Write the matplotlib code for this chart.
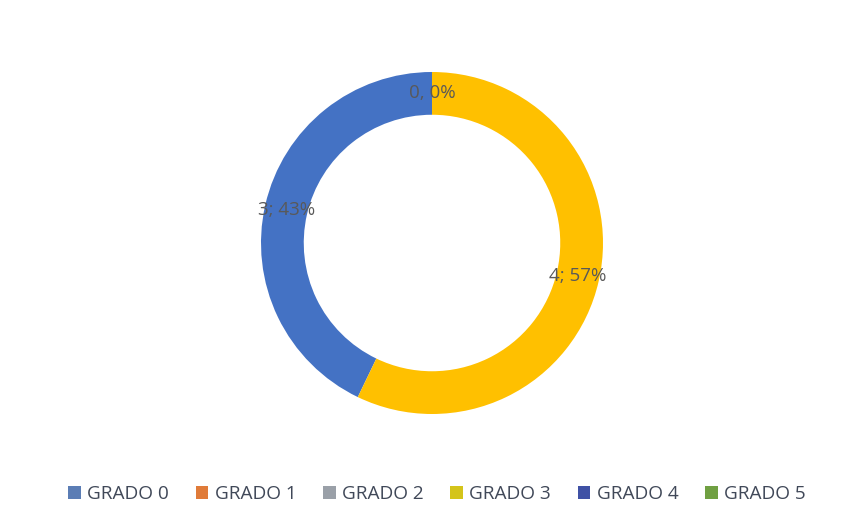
import numpy as np
import matplotlib
matplotlib.use("Agg")
from matplotlib import pyplot as plt
from matplotlib.patches import Patch

# data
categories = ["GRADO 0", "GRADO 1", "GRADO 2", "GRADO 3", "GRADO 4", "GRADO 5"]
values = [3, 0, 0, 4, 0, 0]
colors = ["#4472C4", "#ED7D31", "#A5A5A5", "#FFC000", "#3F51A5", "#70AD47"]
legend_colors = ["#5B7DB5", "#E07B39", "#9AA0A8", "#D4C41A", "#3F51A5", "#70A042"]
# which slices get a label (index), as on the original
labelled = [0, 3, 5]

plt.rcParams['font.family'] = ['Open Sans', 'DejaVu Sans']

fig = plt.figure(figsize=(8.44, 5.24), dpi=100)
# axes placed so the ring sits where it does in the picture
ax = fig.add_axes([261 / 844, 110 / 524, 342 / 844, 342 / 524])

ring = 0.25
wedges, _ = ax.pie(values, colors=colors, startangle=90, counterclock=True,
                   radius=1, wedgeprops=dict(width=ring, edgecolor='none'))
ax.set_xlim(-1, 1)
ax.set_ylim(-1, 1)
ax.set_aspect('equal')
ax.axis('off')

total = sum(values)
for i in labelled:
    w = wedges[i]
    ang = np.deg2rad((w.theta1 + w.theta2) / 2)
    r = 1 - ring / 2
    sep = ", " if values[i] == 0 else "; "
    txt = "%d%s%d%%" % (values[i], sep, round(100 * values[i] / total))
    ax.text(r * np.cos(ang), r * np.sin(ang), txt, ha='center', va='center',
            fontsize=13.5, color='#595959')

handles = [Patch(facecolor=c, edgecolor='none') for c in legend_colors]
fig.legend(handles, categories, loc='center', bbox_to_anchor=(0.518, 1 - 494 / 524),
           ncol=6, frameon=False, fontsize=13.7, labelcolor='#404858',
           handlelength=0.65, handleheight=0.65, handletextpad=0.35, columnspacing=1.4)

fig.savefig("out.png", dpi=100, facecolor='white')
